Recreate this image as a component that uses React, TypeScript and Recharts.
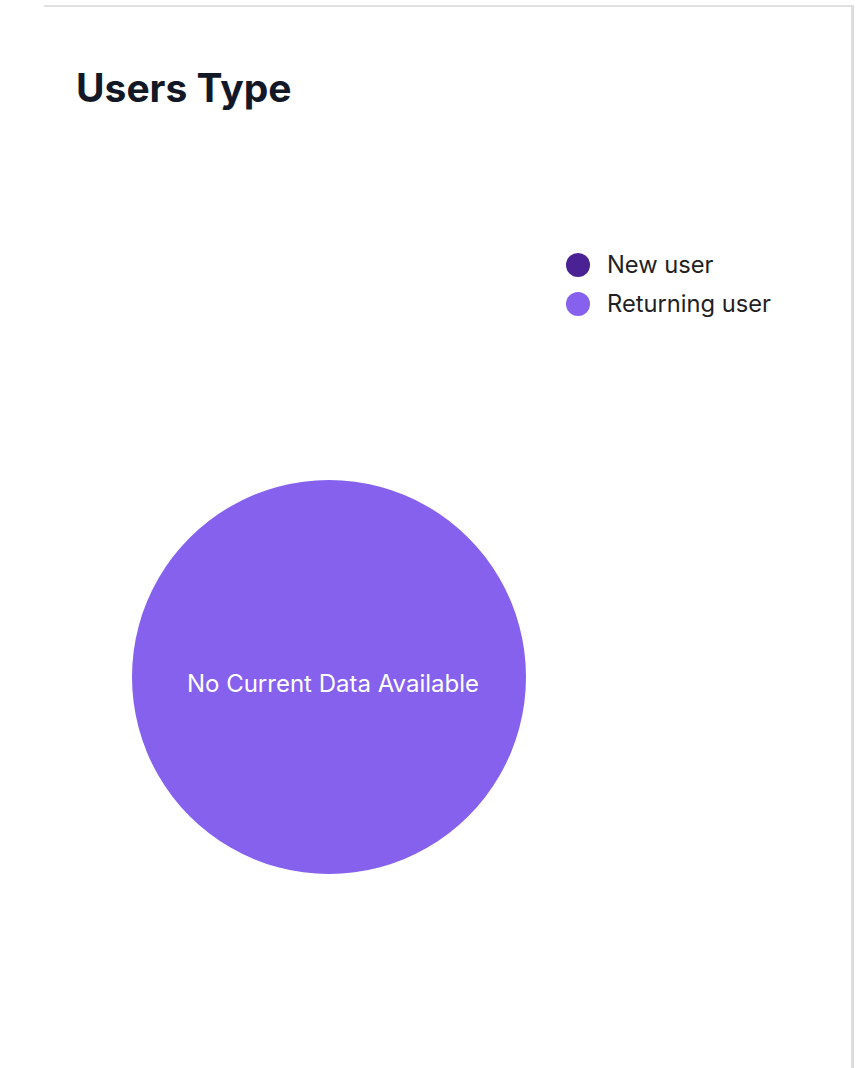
import React from "react";
import { PieChart, Pie, Cell, Legend, Label } from "recharts";

const categories = ["New user", "Returning user"];
const values = [0, 1];
const colors = ["#4B2294", "#8561EE"];
const emptyMessage = "No Current Data Available";
const title = "Users Type";

const data = categories.map((name, i) => ({ name, value: values[i] }));

const FONT = "Inter, 'Noto Sans', sans-serif";

const renderLegend = () => (
  <div style={{ fontFamily: FONT }}>
    {categories.map((c, i) => (
      <div key={c} style={{ display: "flex", alignItems: "center", height: 39 }}>
        <span
          style={{
            display: "inline-block",
            width: 24,
            height: 24,
            borderRadius: 12,
            background: colors[i],
            marginRight: 17,
          }}
        />
        <span style={{ fontSize: 23.7, color: "#1f1f24" }}>{c}</span>
      </div>
    ))}
  </div>
);

export default function App() {
  return (
    <div
      style={{
        position: "absolute",
        top: 0,
        left: 0,
        width: 856,
        height: 1068,
        background: "#fff",
        overflow: "hidden",
      }}
    >
      <div
        style={{
          position: "absolute",
          left: 44,
          top: 5,
          width: 807,
          height: 1100,
          borderTop: "2px solid #e0e0e0",
          borderRight: "3px solid #dcdcdc",
        }}
      />
      <div
        style={{
          position: "absolute",
          left: 76,
          top: 62,
          fontFamily: FONT,
          fontWeight: 700,
          fontSize: 39,
          color: "#121826",
          lineHeight: "52px",
        }}
      >
        {title}
      </div>
      <div style={{ position: "absolute", left: 0, top: 0 }}>
        <PieChart width={856} height={1068}>
          <Legend
            content={renderLegend}
            layout="vertical"
            wrapperStyle={{ position: "absolute", top: 245, left: 566, width: 280 }}
          />
          <Pie
            data={data}
            dataKey="value"
            nameKey="name"
            cx={324}
            cy={672}
            innerRadius={0}
            outerRadius={197}
            startAngle={90}
            endAngle={-270}
            stroke="none"
            isAnimationActive={false}
          >
            {data.map((d, i) => (
              <Cell key={d.name} fill={colors[i]} />
            ))}
            <Label
              content={(props: any) => {
                const vb = props.viewBox || {};
                const cx = vb.cx ?? 329;
                const cy = vb.cy ?? 677;
                return (
                  <text
                    x={cx + 4}
                    y={cy + 8}
                    textAnchor="middle"
                    dominantBaseline="middle"
                    fill="#ffffff"
                    fontFamily={FONT}
                    fontSize={24}
                  >
                    {emptyMessage}
                  </text>
                );
              }}
            />
          </Pie>
        </PieChart>
      </div>
    </div>
  );
}
